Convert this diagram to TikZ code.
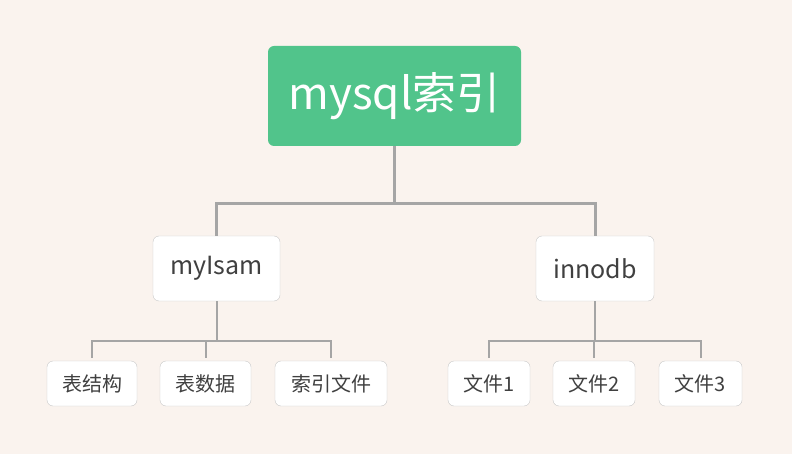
\documentclass[tikz,border=0pt]{standalone}
\usepackage{fontspec}
\setmainfont{Noto Sans CJK SC}
\definecolor{bgcol}{HTML}{FAF3EE}
\definecolor{rootgreen}{HTML}{51C48B}
\definecolor{linegray}{HTML}{A5A5A5}
\definecolor{boxline}{HTML}{C8C8C8}
\definecolor{txtgray}{HTML}{404040}

\begin{document}
\begin{tikzpicture}
          [x=1pt,y=-1pt,
           rootbox/.style={fill=rootgreen,rounded corners=6pt,text=white,font=\fontsize{44}{48}\selectfont,minimum width=253pt,minimum height=100pt,inner sep=0pt},
           midbox/.style={draw=boxline,fill=white,rounded corners=6pt,text=txtgray,font=\fontsize{25}{28}\selectfont,minimum height=65pt,inner sep=0pt},
           leafbox/.style={draw=boxline,fill=white,rounded corners=6pt,text=txtgray,font=\fontsize{20}{24}\selectfont,minimum height=45pt,inner sep=0pt},
           conn/.style={draw=linegray,line width=2pt,shorten >=3pt}]

          \fill[bgcol] (0,0) rectangle (792,454);

          \node[rootbox] (root) at (394.5,96) {mysql索引};

          \node[midbox,minimum width=127pt] (myisam) at (216.5,268.5) {myIsam};
          \node[midbox,minimum width=118pt] (innodb) at (595,268.5) {innodb};

          \node[leafbox,minimum width=90pt] (biaojg) at (92,383.5) {表结构};
          \node[leafbox,minimum width=91pt] (biaosj) at (205.5,383.5) {表数据};
          \node[leafbox,minimum width=112pt] (suoyin) at (331,383.5) {索引文件};
          \node[leafbox,minimum width=82pt] (wj1) at (489,383.5) {文件1};
          \node[leafbox,minimum width=82pt] (wj2) at (594,383.5) {文件2};
          \node[leafbox,minimum width=83pt] (wj3) at (700.5,383.5) {文件3};

          \draw[conn,line width=3pt,shorten >=0pt] (root.south) -- ++(0,57) -| (myisam.north);
          \draw[conn,line width=3pt,shorten >=0pt] (root.south) -- ++(0,57) -| (innodb.north);

          \draw[conn] (myisam.south) -- ++(0,40) -| (biaojg.north);
          \draw[conn] (myisam.south) -- ++(0,40) -| (biaosj.north);
          \draw[conn] (myisam.south) -- ++(0,40) -| (suoyin.north);
          \draw[conn] (innodb.south) -- ++(0,40) -| (wj1.north);
          \draw[conn] (innodb.south) -- ++(0,40) -| (wj2.north);
          \draw[conn] (innodb.south) -- ++(0,40) -| (wj3.north);
        \end{tikzpicture}
\end{document}
